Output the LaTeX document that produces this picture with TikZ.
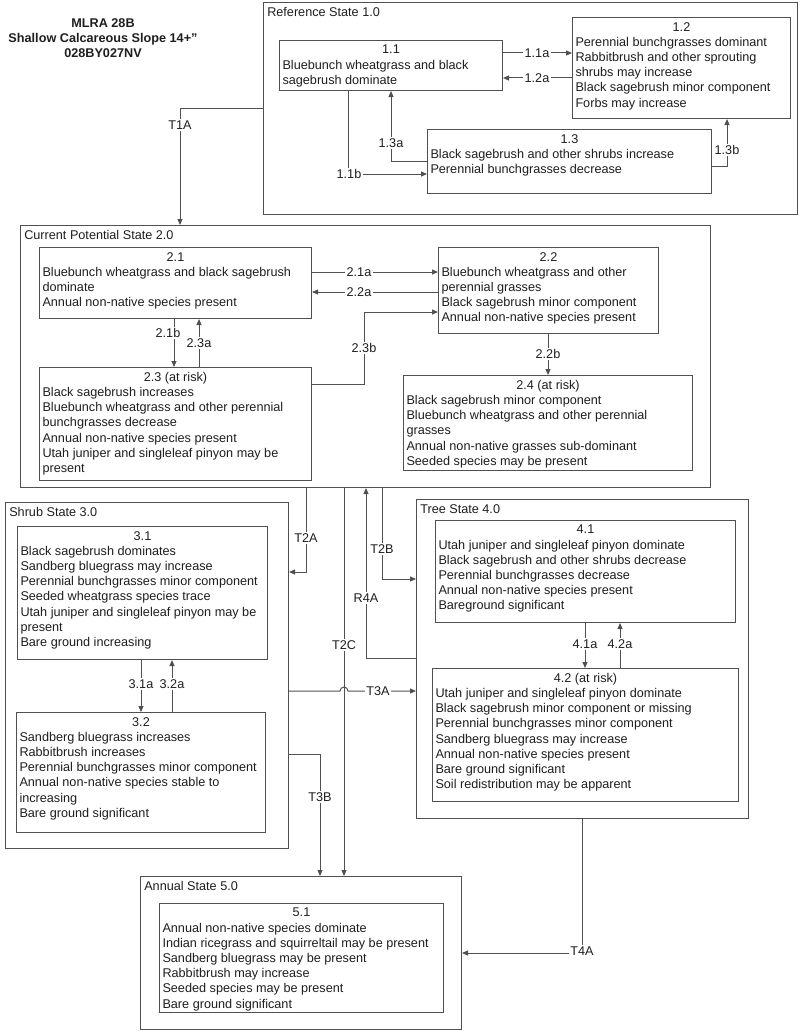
\documentclass[tikz,border=0pt]{standalone}
\usepackage{fontspec}
\setmainfont{Liberation Sans}
\usetikzlibrary{arrows.meta}
\definecolor{linec}{RGB}{80,80,80}
\definecolor{textc}{RGB}{30,30,30}
\newdimen\pxu \pxu=0.75pt
% box text: width, height (px), number, lines
\newcommand{\phasetext}[4]{\parbox[c][\dimexpr#2\pxu-7pt\relax][t]{\dimexpr#1\pxu-4.5pt\relax}{\centering #3\par\raggedright #4}}

\begin{document}
\begin{tikzpicture}[x=0.75pt, y=-0.75pt,
  state/.style={draw=linec, line width=0.75pt, anchor=north west, inner sep=0pt},
  sttitle/.style={anchor=base west, inner sep=0pt, text=textc, font=\fontsize{9.5}{11.4}\selectfont},
  phase/.style={draw=linec, line width=0.75pt, anchor=north west, inner xsep=2.25pt, inner ysep=3.5pt,
                text=textc, font=\fontsize{9.5}{11.4}\selectfont},
  trans/.style={draw=linec, line width=0.75pt, -{Triangle[length=4.5pt,width=3.75pt]}},
  tlabel/.style={fill=white, inner sep=1pt, text=textc, font=\fontsize{9.5}{11.4}\selectfont},
]
\useasboundingbox (0,0) rectangle (800,1031);

% heading
\node[align=center, text=textc, font=\fontsize{9.5}{11.2}\selectfont\bfseries] (head) at (103,38)
  {MLRA 28B\\Shallow Calcareous Slope 14+"\\028BY027NV};

% state boxes
\node[state, minimum width=534\pxu, minimum height=212\pxu] (s1) at (263,2) {};
\node[state, minimum width=690\pxu, minimum height=262\pxu] (s2) at (20,225) {};
\node[state, minimum width=283\pxu, minimum height=346\pxu] (s3) at (5,502) {};
\node[state, minimum width=332\pxu, minimum height=319\pxu] (s4) at (416,499) {};
\node[state, minimum width=321\pxu, minimum height=153\pxu] (s5) at (140,876) {};
\node[sttitle] (s1t) at ([xshift=3pt,yshift=-10.9pt]s1.north west) {Reference State 1.0};
\node[sttitle] (s2t) at ([xshift=3pt,yshift=-10.9pt]s2.north west) {Current Potential State 2.0};
\node[sttitle] (s3t) at ([xshift=3pt,yshift=-10.9pt]s3.north west) {Shrub State 3.0};
\node[sttitle] (s4t) at ([xshift=3pt,yshift=-10.9pt]s4.north west) {Tree State 4.0};
\node[sttitle] (s5t) at ([xshift=3pt,yshift=-10.9pt]s5.north west) {Annual State 5.0};

% Reference State 1.0
\node[phase] (p11) at (279,40) {\phasetext{223}{50}{1.1}{Bluebunch wheatgrass and black\\sagebrush dominate}};
\node[phase] (p12) at (572,17) {\phasetext{218}{101}{1.2}{Perennial bunchgrasses dominant\\Rabbitbrush and other sprouting\\shrubs may increase\\Black sagebrush minor component\\Forbs may increase}};
\node[phase] (p13) at (427,129) {\phasetext{284}{64}{1.3}{Black sagebrush and other shrubs increase\\Perennial bunchgrasses decrease}};

% Current Potential State 2.0
\node[phase] (p21) at (39,247) {\phasetext{272}{71}{2.1}{Bluebunch wheatgrass and black sagebrush\\dominate\\Annual non-native species present}};
\node[phase] (p22) at (438,247) {\phasetext{220}{86}{2.2}{Bluebunch wheatgrass and other\\perennial grasses\\Black sagebrush minor component\\Annual non-native species present}};
\node[phase] (p23) at (39,367) {\phasetext{272}{113}{2.3 (at risk)}{Black sagebrush increases\\Bluebunch wheatgrass and other perennial\\bunchgrasses decrease\\Annual non-native species present\\Utah juniper and singleleaf pinyon may be\\present}};
\node[phase] (p24) at (403,375) {\phasetext{289}{95}{2.4 (at risk)}{Black sagebrush minor component\\Bluebunch wheatgrass and other perennial\\grasses\\Annual non-native grasses sub-dominant\\Seeded species may be present}};

% Shrub State 3.0
\node[phase] (p31) at (17,526) {\phasetext{250}{133}{3.1}{Black sagebrush dominates\\Sandberg bluegrass may increase\\Perennial bunchgrasses minor component\\Seeded wheatgrass species trace\\Utah juniper and singleleaf pinyon may be\\present\\Bare ground increasing}};
\node[phase] (p32) at (16,712) {\phasetext{249}{120}{3.2}{Sandberg bluegrass increases\\Rabbitbrush increases\\Perennial bunchgrasses minor component\\Annual non-native species stable to\\increasing\\Bare ground significant}};

% Tree State 4.0
\node[phase] (p41) at (435,520) {\phasetext{300}{102}{4.1}{Utah juniper and singleleaf pinyon dominate\\Black sagebrush and other shrubs decrease\\Perennial bunchgrasses decrease\\Annual non-native species present\\Bareground significant}};
\node[phase] (p42) at (432,668) {\phasetext{306}{133}{4.2 (at risk)}{Utah juniper and singleleaf pinyon dominate\\Black sagebrush minor component or missing\\Perennial bunchgrasses minor component\\Sandberg bluegrass may increase\\Annual non-native species present\\Bare ground significant\\Soil redistribution may be apparent}};

% Annual State 5.0
\node[phase] (p51) at (159,903) {\phasetext{284}{109}{5.1}{Annual non-native species dominate\\Indian ricegrass and squirreltail may be present\\Sandberg bluegrass may be present\\Rabbitbrush may increase\\Seeded species may be present\\Bare ground significant}};

% pathways within states
\draw[trans] (p11.east |- 0,53) -- (p12.west |- 0,53);
\draw[trans] (p12.west |- 0,78) -- (p11.east |- 0,78);
\draw[trans] (p11.south -| 348,0) |- (p13.west |- 0,174);
\draw[trans] (p13.west |- 0,161) -| (p11.south -| 391,0);
\draw[trans] (p13.east |- 0,166) -| (p12.south -| 727,0);
\draw[trans] (p21.east |- 0,272) -- (p22.west |- 0,272);
\draw[trans] (p22.west |- 0,292) -- (p21.east |- 0,292);
\draw[trans] (p23.east |- 0,384) -- (364,384) -- (364,312) -- (p22.west |- 0,312);
\draw[trans] (p21.south -| 174,0) -- (p23.north -| 174,0);
\draw[trans] (p23.north -| 199,0) -- (p21.south -| 199,0);
\draw[trans] (p22.south -| 548,0) -- (p24.north -| 548,0);
\draw[trans] (p31.south -| 141,0) -- (p32.north -| 141,0);
\draw[trans] (p32.north -| 172,0) -- (p31.south -| 172,0);
\draw[trans] (p41.south -| 585,0) -- (p42.north -| 585,0);
\draw[trans] (p42.north -| 620,0) -- (p41.south -| 620,0);

% transitions between states
\draw[trans] (s1.west |- 0,108) -| (s2.north -| 180,0);
\draw[trans] (s2.south -| 306,0) |- (s3.east |- 0,572);
\draw[trans] (s2.south -| 382,0) |- (s4.west |- 0,579);
\draw[trans] (s4.west |- 0,658) -| (s2.south -| 366,0);
\draw[trans] (s2.south -| 344,0) -- (s5.north -| 344,0);
\draw[trans] (s3.east |- 0,691) -- (340,691) arc[start angle=180, end angle=0, radius=3pt] -- (s4.west |- 0,691);
\draw[trans] (s3.east |- 0,754) -| (s5.north -| 320,0);
\draw[trans] (s4.south -| 582,0) |- (s5.east |- 0,953);

% labels
\node[tlabel] (l11a) at (537,53) {1.1a};
\node[tlabel] (l12a) at (537,78) {1.2a};
\node[tlabel] (l11b) at (349,174) {1.1b};
\node[tlabel] (l13a) at (391,143) {1.3a};
\node[tlabel] (l13b) at (727,150) {1.3b};
\node[tlabel] (l21a) at (359,272) {2.1a};
\node[tlabel] (l22a) at (359,292) {2.2a};
\node[tlabel] (l21b) at (168,333) {2.1b};
\node[tlabel] (l23a) at (199,343) {2.3a};
\node[tlabel] (l23b) at (364,348) {2.3b};
\node[tlabel] (l22b) at (548,354) {2.2b};
\node[tlabel] (l31a) at (141,684) {3.1a};
\node[tlabel] (l32a) at (172,684) {3.2a};
\node[tlabel] (l41a) at (585,644) {4.1a};
\node[tlabel] (l42a) at (620,644) {4.2a};
\node[tlabel] (lT1A) at (180,125) {T1A};
\node[tlabel] (lT2A) at (306,538) {T2A};
\node[tlabel] (lT2B) at (382,549) {T2B};
\node[tlabel] (lR4A) at (366,598) {R4A};
\node[tlabel] (lT2C) at (344,645) {T2C};
\node[tlabel] (lT3A) at (378,691) {T3A};
\node[tlabel] (lT3B) at (320,797) {T3B};
\node[tlabel] (lT4A) at (582,951) {T4A};

\end{tikzpicture}
\end{document}
